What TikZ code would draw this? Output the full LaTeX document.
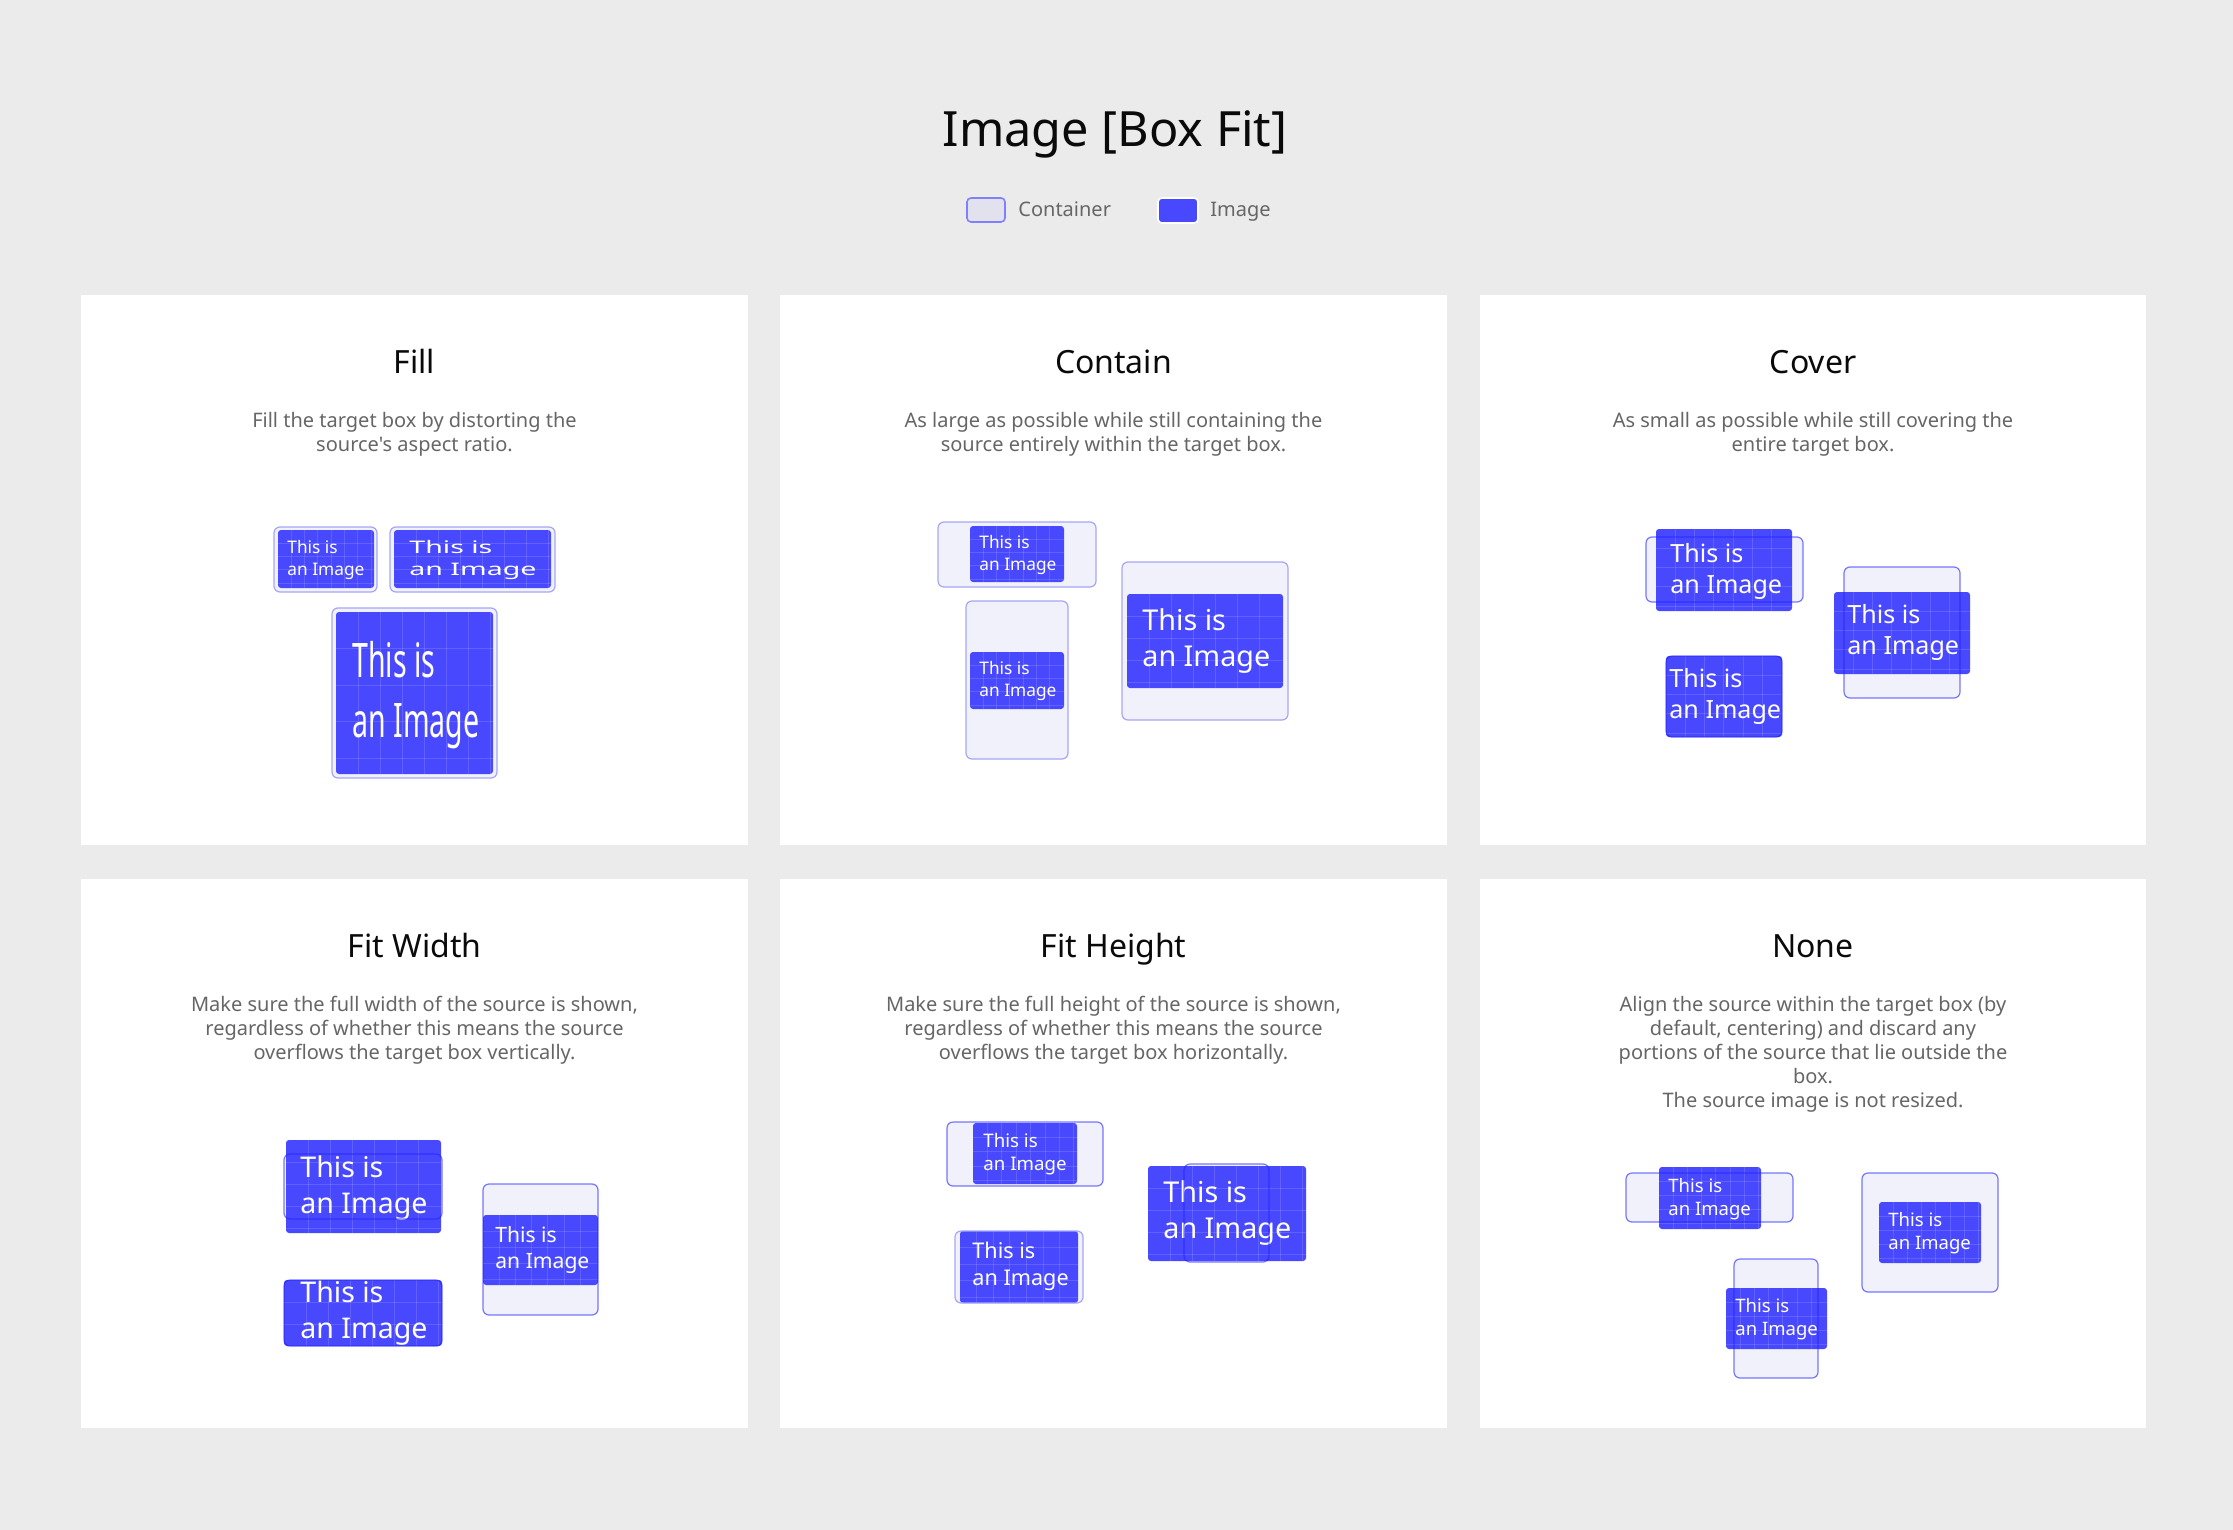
\documentclass[tikz,border=0pt]{standalone}
\usepackage{fontspec}
\usepackage{graphicx}
\newfontfamily\uifont{Noto Sans}
\usetikzlibrary{fit}
\definecolor{bg}{HTML}{EBEBEB}
\definecolor{imgblue}{HTML}{4848FF}
\definecolor{contfill}{HTML}{F1F1FC}
\definecolor{contlight}{HTML}{A6A6F8}
\definecolor{contdark}{HTML}{2020FF}
\definecolor{desccol}{HTML}{666666}
\definecolor{titlecol}{HTML}{0A0A0A}
\definecolor{legfill}{HTML}{E2E2EE}
\definecolor{legline}{HTML}{8080FF}
\tikzset{
  panel/.style={fill=white, draw=none, inner sep=0, outer sep=0},
  maintitle/.style={anchor=base, inner sep=0, text=titlecol, font=\uifont\fontsize{24.3}{30}\selectfont},
  ptitle/.style={anchor=base, inner sep=0, text=titlecol, font=\uifont\fontsize{16}{19}\selectfont},
  pdesc/.style={anchor=base, inner sep=0, text=desccol, font=\uifont\fontsize{10}{12}\selectfont},
  legtext/.style={anchor=base west, inner sep=0, text=desccol, font=\uifont\fontsize{10}{12}\selectfont},
  legc/.style={fill=legfill, draw=legline, line width=0.8pt, rounded corners=2pt, inner sep=0, outer sep=0},
  legi/.style={fill=imgblue, draw=white, line width=0.8pt, rounded corners=2pt, inner sep=0, outer sep=0},
  cont/.style={fill=contfill, draw=none, inner sep=0, outer sep=0, rounded corners=3pt},
  contedge/.style={draw=contdark, draw opacity=0.6, line width=0.6pt, rounded corners=3pt},
  contlightedge/.style={draw=contlight, line width=0.6pt, rounded corners=3pt},
  img/.style={fill=imgblue, draw=none, inner sep=0, outer sep=0, rounded corners=1.5pt},
  gridln/.style={draw=white, draw opacity=0.14, line width=0.5pt},
  imtext/.style={anchor=base west, inner sep=0, text=white, font=\uifont},
}
\newcommand\dlines[1]{\vtop{\halign{\hfil##\hfil\cr#1\crcr}}}
\newcommand\imggrid[6]{%
  \foreach \k in {1,...,16}{%
    \pgfmathsetmacro\gx{#1+\k*#5}%
    \pgfmathsetmacro\gy{#2+\k*#6}%
    \ifdim\gx pt<\dimexpr#3pt-2pt\relax \draw[gridln] (\gx,#2) -- (\gx,#4);\fi
    \ifdim\gy pt<\dimexpr#4pt-2pt\relax \draw[gridln] (#1,\gy) -- (#3,\gy);\fi}}
\newcommand\contbox[5]{\node[cont, fit={(#2,#3)(#4,#5)}] (#1) {};}
\newcommand\imgbox[7]{\node[img, fit={(#2,#3)(#4,#5)}] (#1) {};\imggrid{#2}{#3}{#4}{#5}{#6}{#7}}
\newcommand\cedge[2][contedge]{\draw[#1] (#2.north west) rectangle (#2.south east);}
\newcommand\itext[4]{%
  \pgfmathsetmacro\itfs{8.65*#4}\pgfmathsetmacro\itls{11*#4}%
  \node[imtext] (#1) at (#2,#3) {\fontsize{\itfs}{\itls}\selectfont\vtop{\hbox{This is}\hbox{an Image}}};}
\newcommand\itextS[5]{%
  \node[imtext] (#1) at (#2,#3) {\fontsize{8.65}{11}\selectfont\scalebox{#4}[#5]{\vtop{\hbox{This is}\hbox{an Image}}}};}
\begin{document}
\begin{tikzpicture}[x=0.5pt, y=-0.5pt]
\fill[bg] (0,0) rectangle (2233,1530);
\useasboundingbox (0,0) rectangle (2233,1530);

% title and legend
\node[maintitle] (title) at (1115,147) {Image [Box Fit]};
\node[legc, fit={(967,198)(1005,222)}] (legC) {};
\node[legtext] (legCt) at (1018,217) {Container};
\node[legi, fit={(1158,198)(1198,223)}] (legI) {};
\node[legtext] (legIt) at (1210,217) {Image};

% panels
\node[panel, fit={(81,295)(748,845)}] (p1) {};
\node[panel, fit={(780,295)(1447,845)}] (p2) {};
\node[panel, fit={(1480,295)(2146,845)}] (p3) {};
\node[panel, fit={(81,879)(748,1428)}] (p4) {};
\node[panel, fit={(780,879)(1447,1428)}] (p5) {};
\node[panel, fit={(1480,879)(2146,1428)}] (p6) {};

\node[ptitle] (t1) at (414.5,373) {Fill};
\node[ptitle] (t2) at (1113.5,373) {Contain};
\node[ptitle] (t3) at (1813,373) {Cover};
\node[ptitle] (t4) at (414.5,957) {Fit Width};
\node[ptitle] (t5) at (1113.5,957) {Fit Height};
\node[ptitle] (t6) at (1813,957) {None};

\node[pdesc] (d1) at (414.5,427) {\dlines{Fill the target box by distorting the\cr source's aspect ratio.}};
\node[pdesc] (d2) at (1113.5,427) {\dlines{As large as possible while still containing the\cr source entirely within the target box.}};
\node[pdesc] (d3) at (1813,427) {\dlines{As small as possible while still covering the\cr entire target box.}};
\node[pdesc] (d4) at (414.5,1011) {\dlines{Make sure the full width of the source is shown,\cr regardless of whether this means the source\cr overflows the target box vertically.}};
\node[pdesc] (d5) at (1113.5,1011) {\dlines{Make sure the full height of the source is shown,\cr regardless of whether this means the source\cr overflows the target box horizontally.}};
\node[pdesc] (d6) at (1813,1011) {\dlines{Align the source within the target box (by\cr default, centering) and discard any\cr portions of the source that lie outside the\cr box.\cr The source image is not resized.}};

% ---- Fill
\contbox{fc1}{274}{527}{377}{592}\cedge[contlightedge]{fc1}
\imgbox{fi1}{278}{530}{374}{588}{13.3}{13.3}
\itextS{ft1}{287}{553}{1}{1}
\contbox{fc2}{390}{527}{555}{592}\cedge[contlightedge]{fc2}
\imgbox{fi2}{394}{530}{551}{588}{22}{13.3}
\itextS{ft2}{409}{553}{1.65}{1}
\contbox{fc3}{332}{608}{497}{778}\cedge[contlightedge]{fc3}
\imgbox{fi3}{336}{612}{493}{774}{22}{36.6}
\itextS{ft3}{352}{677}{1.65}{2.75}

% ---- Contain
\contbox{cc1}{938}{522}{1096}{587}
\imgbox{ci1}{970}{526}{1064}{582}{13.3}{13.3}
\itext{ct1}{979}{548}{1}
\cedge[contlightedge]{cc1}
\contbox{cc2}{966}{601}{1068}{759}
\imgbox{ci2}{970}{652}{1064}{709}{13.3}{13.3}
\itext{ct2}{979}{674}{1}
\cedge[contlightedge]{cc2}
\contbox{cc3}{1122}{562}{1288}{720}
\imgbox{ci3}{1127}{594}{1283}{688}{22}{22}
\itext{ct3}{1142}{630}{1.66}
\cedge[contlightedge]{cc3}

% ---- Cover
\contbox{vc1}{1646}{537}{1803}{602}
\imgbox{vi1}{1656}{529}{1792}{611}{19.3}{19.3}
\itext{vt1}{1670}{562}{1.45}
\cedge{vc1}
\contbox{vc2}{1844}{567}{1960}{698}
\imgbox{vi2}{1834}{592}{1970}{674}{19.3}{19.3}
\itext{vt2}{1847}{623}{1.45}
\cedge{vc2}
\contbox{vc3}{1666}{656}{1782}{737}
\imgbox{vi3}{1666}{656}{1782}{737}{19.3}{19.3}
\itext{vt3}{1669}{687}{1.45}
\cedge{vc3}

% ---- Fit Width
\contbox{wc1}{284}{1154}{442}{1219}
\imgbox{wi1}{286}{1140}{441}{1233}{22}{22}
\itext{wt1}{300}{1177}{1.65}
\cedge{wc1}
\contbox{wc2}{284}{1280}{442}{1346}
\imgbox{wi2}{284}{1280}{442}{1346}{22}{22}
\itext{wt2}{300}{1302}{1.65}
\cedge{wc2}
\contbox{wc3}{483}{1184}{598}{1315}
\imgbox{wi3}{483}{1215}{598}{1285}{16.2}{16.2}
\itext{wt3}{495}{1242}{1.22}
\cedge{wc3}

% ---- Fit Height
\contbox{hc1}{947}{1122}{1103}{1186}
\imgbox{hi1}{973}{1123}{1077}{1184}{14.4}{14.4}
\itext{ht1}{983}{1147}{1.08}
\cedge{hc1}
\contbox{hc2}{955}{1231}{1083}{1303}
\imgbox{hi2}{960}{1231}{1078}{1303}{16.6}{16.6}
\itext{ht2}{972}{1258}{1.25}
\cedge[contlightedge]{hc2}
\contbox{hc3}{1184}{1164}{1269}{1262}
\imgbox{hi3}{1148}{1166}{1306}{1261}{22}{22}
\itext{ht3}{1163}{1202}{1.66}
\cedge{hc3}

% ---- None
\contbox{nc1}{1626}{1173}{1793}{1222}
\imgbox{ni1}{1659}{1167}{1761}{1229}{14.2}{14.2}
\itext{nt1}{1668}{1192}{1.07}
\cedge{nc1}
\contbox{nc2}{1862}{1173}{1998}{1292}
\imgbox{ni2}{1879}{1202}{1981}{1263}{14.2}{14.2}
\itext{nt2}{1888}{1226}{1.07}
\cedge{nc2}
\contbox{nc3}{1734}{1259}{1818}{1378}
\imgbox{ni3}{1726}{1288}{1827}{1349}{14.2}{14.2}
\itext{nt3}{1735}{1312}{1.07}
\cedge{nc3}
\end{tikzpicture}
\end{document}
